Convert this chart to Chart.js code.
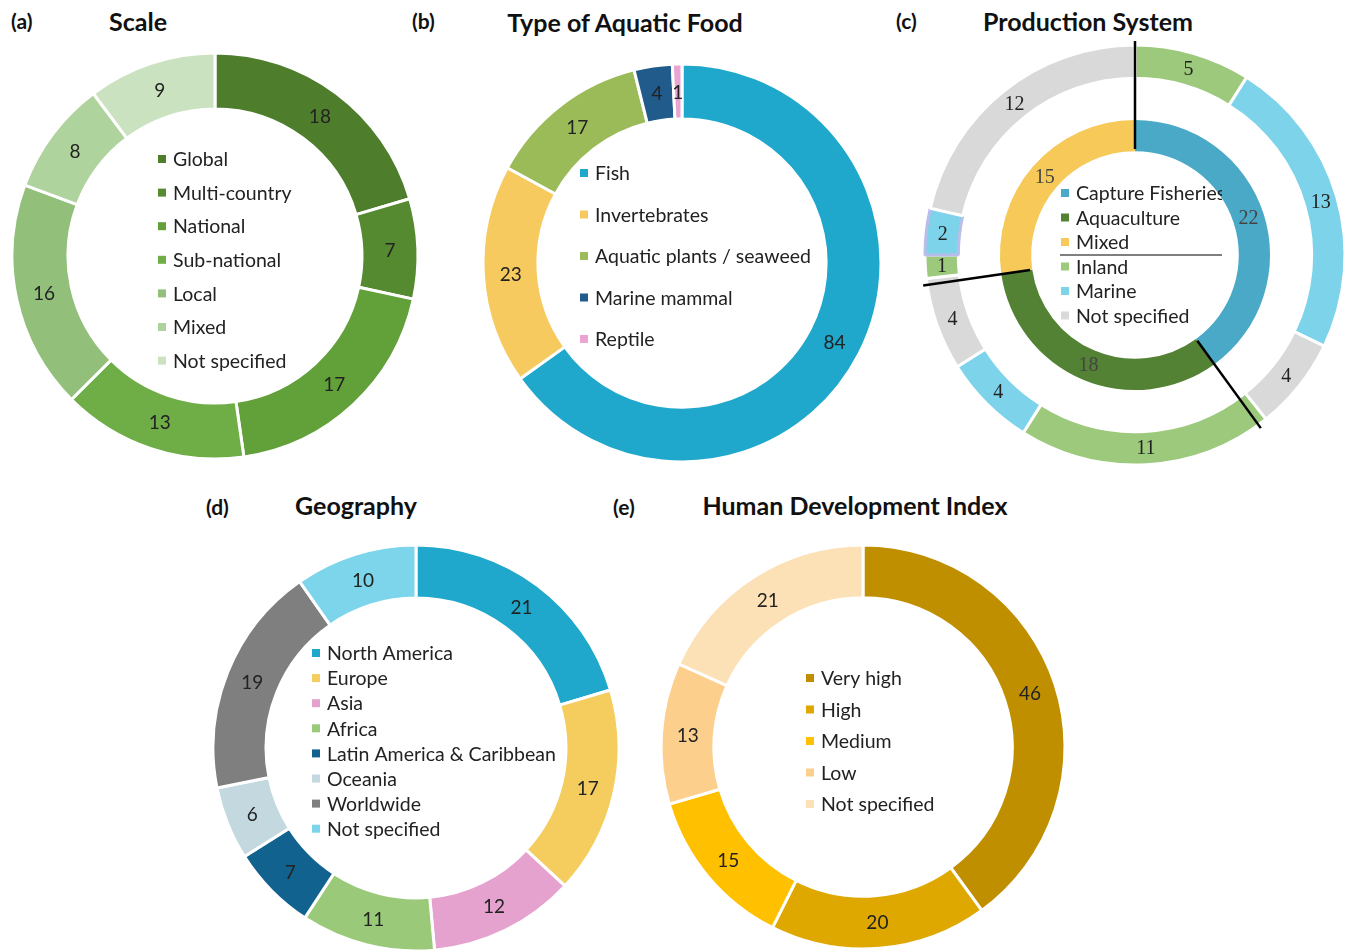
<!DOCTYPE html>
<html>
<head>
<meta charset="utf-8">
<script src="https://cdn.jsdelivr.net/npm/chart.js@4.4.1/dist/chart.umd.min.js"></script>
<style>
  html, body { margin: 0; padding: 0; background: #fff; }
  body { width: 1346px; height: 951px; overflow: hidden; position: relative; font-family: Lato, 'Open Sans', sans-serif; }
  canvas { position: absolute; }
  .panel { position: absolute; font-weight: bold; font-size: 21px; color: #111; transform: translateY(-50%); }
  .title { position: absolute; font-weight: bold; font-size: 25px; color: #111; transform: translate(-50%, -50%); white-space: nowrap; }
</style>
</head>
<body>
<div class="panel" style="left:11px; top:20px">(a)</div>
<div class="title" style="left:138px; top:21px">Scale</div>
<div class="panel" style="left:412px; top:20px">(b)</div>
<div class="title" style="left:625px; top:22px">Type of Aquatic Food</div>
<div class="panel" style="left:896px; top:20px">(c)</div>
<div class="title" style="left:1088px; top:21px">Production System</div>
<div class="panel" style="left:206px; top:506px">(d)</div>
<div class="title" style="left:356px; top:505px">Geography</div>
<div class="panel" style="left:613px; top:506px">(e)</div>
<div class="title" style="left:855px; top:505px">Human Development Index</div>

<canvas id="chartA" width="420" height="420" style="left:5px; top:46px"></canvas>
<canvas id="chartB" width="420" height="420" style="left:472px; top:53px"></canvas>
<canvas id="chartC" width="440" height="440" style="left:915px; top:35px"></canvas>
<canvas id="chartD" width="420" height="420" style="left:206px; top:538px"></canvas>
<canvas id="chartE" width="420" height="420" style="left:653px; top:537px"></canvas>

<script>
// ── DATA ─────────────────────────────────────────────────────
const scaleLabels = ['Global', 'Multi-country', 'National', 'Sub-national', 'Local', 'Mixed', 'Not specified'];
const scaleValues = [18, 7, 17, 13, 16, 8, 9];

const foodLabels = ['Fish', 'Invertebrates', 'Aquatic plants / seaweed', 'Marine mammal', 'Reptile'];
const foodValues = [84, 23, 17, 4, 1];

// inner ring of (c)
const systemLabels = ['Capture Fisheries', 'Aquaculture', 'Mixed'];
const systemValues = [22, 18, 15];
// outer ring of (c), split by environment within each system
const envLabels   = ['Inland', 'Marine', 'Not specified'];
const envSegments = ['Inland', 'Marine', 'Not specified',
                     'Inland', 'Marine', 'Not specified',
                     'Inland', 'Marine', 'Not specified'];
const envValues   = [5, 13, 4, 11, 4, 4, 1, 2, 12];

const geoLabels = ['North America', 'Europe', 'Asia', 'Africa', 'Latin America & Caribbean', 'Oceania', 'Worldwide', 'Not specified'];
const geoValues = [21, 17, 12, 11, 7, 6, 19, 10];

const hdiLabels = ['Very high', 'High', 'Medium', 'Low', 'Not specified'];
const hdiValues = [46, 20, 15, 13, 21];

// ── COLOURS ──────────────────────────────────────────────────
const scaleColors  = ['#4E7D2C', '#568A31', '#62A03A', '#6FAD46', '#92C07B', '#AFD39D', '#CAE2BF'];
const foodColors   = ['#1FA8CC', '#F6CA5E', '#9BBB59', '#215B8B', '#E9A4D2'];
const systemColors = ['#4AA9C6', '#538234', '#F6C959'];
const envColors    = { 'Inland': '#9CC97B', 'Marine': '#7CD3EA', 'Not specified': '#D9D9D9' };
const geoColors    = ['#1FA8CB', '#F5CD5E', '#E6A2CE', '#9BC97A', '#11628F', '#C3D8DF', '#7F7F7F', '#7CD5EA'];
const hdiColors    = ['#BF8F00', '#DEA800', '#FFC000', '#FCD08C', '#FDE1B6'];

const TEXT = '#222';
const LEGEND_FONT = "19.5px Lato, sans-serif";

// ── PLUGIN: value labels + legend drawn in the hole ──────────
const ringText = {
  id: 'ringText',
  afterDatasetsDraw(chart, args, opts) {
    const ctx = chart.ctx;
    const first = chart.getDatasetMeta(0).data[0];
    const cx = first.x, cy = first.y;
    ctx.save();

    // black separator lines along the inner ring boundaries
    if (opts.splitLines) {
      const meta = chart.getDatasetMeta(opts.splitLines.dataset);
      ctx.strokeStyle = '#000';
      ctx.lineWidth = 2.5;
      meta.data.forEach(arc => {
        const a = arc.startAngle;
        ctx.beginPath();
        ctx.moveTo(cx + Math.cos(a) * opts.splitLines.r0, cy + Math.sin(a) * opts.splitLines.r0);
        ctx.lineTo(cx + Math.cos(a) * opts.splitLines.r1, cy + Math.sin(a) * opts.splitLines.r1);
        ctx.stroke();
      });
    }

    // values
    ctx.textAlign = 'center';
    ctx.textBaseline = 'middle';
    ctx.font = opts.labelFont;
    chart.data.datasets.forEach((ds, di) => {
      if (ds.spacer) return;
      chart.getDatasetMeta(di).data.forEach((arc, i) => {
        const p = arc.tooltipPosition();
        ctx.fillStyle = (opts.labelColors && opts.labelColors[di]) || TEXT;
        ctx.fillText(ds.data[i], p.x, p.y + 1);
      });
    });

    // legend
    const L = opts.legend;
    if (L.clipRight !== undefined) {
      ctx.beginPath();
      ctx.rect(0, 0, cx + L.clipRight, chart.height);
      ctx.clip();
    }
    ctx.textAlign = 'left';
    ctx.font = L.font;
    L.items.forEach((it, k) => {
      const y = cy + L.dy + k * L.gap;
      ctx.fillStyle = it.color;
      ctx.fillRect(cx + L.dx - 4, y - 4, 8, 8);
      ctx.fillStyle = TEXT;
      ctx.fillText(it.text, cx + L.dx + 11, y + 1);
    });
    if (L.rule) {
      ctx.strokeStyle = '#000';
      ctx.lineWidth = 1.2;
      ctx.beginPath();
      ctx.moveTo(cx + L.rule.x0, cy + L.rule.y);
      ctx.lineTo(cx + L.rule.x1, cy + L.rule.y);
      ctx.stroke();
    }
    ctx.restore();
  }
};

function legendItems(labels, colors) {
  return labels.map((t, i) => ({ text: t, color: colors[i] }));
}

function ring(id, labels, values, colors, radius, cutout, legend) {
  return new Chart(document.getElementById(id), {
    type: 'doughnut',
    data: {
      labels: labels,
      datasets: [{
        data: values,
        backgroundColor: colors,
        borderColor: '#fff',
        borderWidth: 3,
      }],
    },
    options: {
      responsive: false,
      animation: false,
      radius: radius,
      cutout: cutout,
      layout: { padding: 0 },
      plugins: {
        legend: { display: false },
        tooltip: { enabled: false },
        ringText: {
          labelFont: "19px Lato, sans-serif",
          legend: legend,
        },
      },
    },
    plugins: [ringText],
  });
}

// (a) Scale
ring('chartA', scaleLabels, scaleValues, scaleColors, 203, 151, {
  dx: -53, dy: -97, gap: 33.6, font: LEGEND_FONT,
  items: legendItems(scaleLabels, scaleColors),
});

// (b) Type of Aquatic Food
ring('chartB', foodLabels, foodValues, foodColors, 199, 151, {
  dx: -98, dy: -90, gap: 41.5, font: LEGEND_FONT,
  items: legendItems(foodLabels, foodColors),
});

// (c) Production System: outer ring = environment, inner ring = system
const envSegColors = envSegments.map(k => envColors[k]);
const envBorders = envSegments.map((k, i) => (i === 7 ? '#B9BDEA' : '#fff'));
new Chart(document.getElementById('chartC'), {
  type: 'doughnut',
  data: {
    labels: envSegments,
    datasets: [
      { data: envValues, backgroundColor: envSegColors, borderColor: envBorders, borderWidth: 3, weight: 32 },
      { data: [1], backgroundColor: 'rgba(0,0,0,0)', borderWidth: 0, weight: 40, spacer: true },
      { data: systemValues, backgroundColor: systemColors, borderColor: '#fff', borderWidth: 0, weight: 30 },
    ],
  },
  options: {
    responsive: false,
    animation: false,
    radius: 210,
    cutout: 108,
    layout: { padding: 0 },
    plugins: {
      legend: { display: false },
      tooltip: { enabled: false },
      ringText: {
        labelFont: "20px 'Liberation Serif', serif",
        labelColors: ['#222', null, '#444'],
        splitLines: { dataset: 2, r0: 106, r1: 214 },
        legend: {
          dx: -70, dy: -62, gap: 24.5, font: LEGEND_FONT, clipRight: 87,
          rule: { x0: -75, x1: 87, y: 0 },
          items: legendItems(systemLabels, systemColors)
            .concat(envLabels.map(t => ({ text: t, color: envColors[t] }))),
        },
      },
    },
  },
  plugins: [ringText],
});

// (d) Geography
ring('chartD', geoLabels, geoValues, geoColors, 203, 154, {
  dx: -100, dy: -95, gap: 25.1, font: LEGEND_FONT,
  items: legendItems(geoLabels, geoColors),
});

// (e) Human Development Index
ring('chartE', hdiLabels, hdiValues, hdiColors, 202, 154, {
  dx: -53, dy: -69, gap: 31.5, font: LEGEND_FONT,
  items: legendItems(hdiLabels, hdiColors),
});
</script>
</body>
</html>
